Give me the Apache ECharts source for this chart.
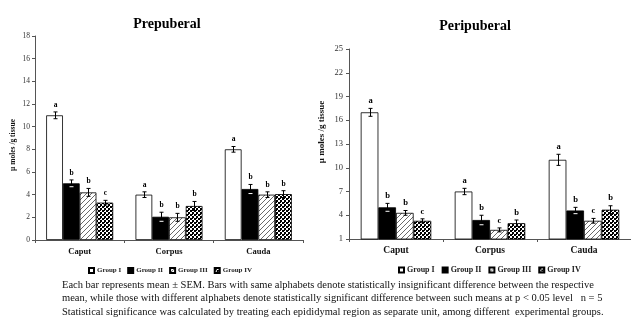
<!DOCTYPE html>
<html><head><meta charset="utf-8">
<script src="https://cdn.jsdelivr.net/npm/echarts@6/dist/echarts.min.js"></script>
<style>html,body{margin:0;padding:0;background:#fff}#c{width:631px;height:328px}</style>
</head><body><div id="c"></div>
<script>
const categories = ['Caput', 'Corpus', 'Cauda'];
const groups = ['Group I', 'Group II', 'Group III', 'Group IV'];
const yName = 'µ moles /g tissue';

// Prepuberal: rows = groups, columns = categories
const preMeans = [[11.0, 4.0, 8.0], [5.0, 2.05, 4.5], [4.2, 2.0, 4.0], [3.3, 3.0, 4.05]];
const preErrs  = [[0.3, 0.25, 0.25], [0.3, 0.4, 0.4], [0.35, 0.35, 0.25], [0.2, 0.4, 0.3]];
const preLetters = [['a', 'a', 'a'], ['b', 'b', 'b'], ['b', 'b', 'b'], ['c', 'b', 'b']];

// Peripuberal
const periMeans = [[17.0, 7.0, 11.0], [5.0, 3.4, 4.6], [4.3, 2.15, 3.3], [3.3, 3.0, 4.7]];
const periErrs  = [[0.5, 0.4, 0.7], [0.5, 0.6, 0.4], [0.3, 0.25, 0.3], [0.25, 0.4, 0.5]];
const periLetters = [['a', 'a', 'a'], ['b', 'b', 'b'], ['b', 'c', 'c'], ['c', 'b', 'b']];

const preTicks = {min: 0, max: 18, interval: 2};
const periTicks = {min: 1, max: 25, interval: 3};

const footnote = [
  'Each bar represents mean ± SEM. Bars with same alphabets denote statistically insignificant difference between the respective',
  'mean, while those with different alphabets denote statistically significant difference between such means at p < 0.05 level   n = 5',
  'Statistical significance was calculated by treating each epididymal region as separate unit, among different  experimental groups.'
];

const SERIF = '"Liberation Serif", "Times New Roman", serif';
const GAP = 0.25;

function hatchPattern() {
  const c = document.createElement('canvas'); c.width = 5; c.height = 5;
  const x = c.getContext('2d');
  x.fillStyle = '#fff'; x.fillRect(0, 0, 5, 5);
  x.strokeStyle = '#6a6a6a'; x.lineWidth = 1;
  x.beginPath();
  x.moveTo(0, 5); x.lineTo(5, 0);
  x.moveTo(-1, 1); x.lineTo(1, -1);
  x.moveTo(4, 6); x.lineTo(6, 4);
  x.stroke();
  return c;
}
function checkPattern() {
  const c = document.createElement('canvas'); c.width = 4; c.height = 4;
  const x = c.getContext('2d');
  x.fillStyle = '#fff'; x.fillRect(0, 0, 4, 4);
  x.fillStyle = '#000'; x.fillRect(0, 0, 2, 2); x.fillRect(2, 2, 2, 2);
  x.fillRect(0, 2, 1, 1);
  return c;
}
const fills = ['#ffffff', '#000000', {image: hatchPattern(), repeat: 'repeat'}, {image: checkPattern(), repeat: 'repeat'}];

function barSeries(means, axisIdx) {
  return groups.map((g, i) => ({
    name: g, type: 'bar', xAxisIndex: axisIdx, yAxisIndex: axisIdx,
    barGap: 0, barCategoryGap: (GAP * 100) + '%',
    itemStyle: {color: fills[i], borderColor: '#000', borderWidth: 0.8},
    data: means[i], z: 2, silent: true
  }));
}

function errSeries(means, errs, letters, axisIdx, fontSize) {
  const data = [];
  for (let c = 0; c < categories.length; c++)
    for (let g = 0; g < groups.length; g++)
      data.push([c, means[g][c], errs[g][c], g]);
  return {
    type: 'custom', xAxisIndex: axisIdx, yAxisIndex: axisIdx, z: 5, silent: true,
    encode: {x: 0, y: 1},
    data: data,
    renderItem: function (params, api) {
      const c = api.value(0), m = api.value(1), e = api.value(2), g = api.value(3);
      const band = api.size([1, 0])[0];
      const bw = band * (1 - GAP) / 4;
      const p = api.coord([c, m]);
      const x = Math.round(p[0] - band * (1 - GAP) / 2 + (g + 0.5) * bw) + 0.5;
      const yt = api.coord([c, m + e])[1];
      const yb = api.coord([c, m - e])[1];
      const cap = 2;
      const st = {stroke: '#000', lineWidth: 1};
      return {
        type: 'group', children: [
          {type: 'line', shape: {x1: x, y1: yt, x2: x, y2: yb}, style: st},
          {type: 'line', shape: {x1: x - cap, y1: yt, x2: x + cap, y2: yt}, style: st},
          {type: 'line', shape: {x1: x - cap, y1: yb, x2: x + cap, y2: yb}, style: g === 1 ? {stroke: '#fff', lineWidth: 1} : st},
          {type: 'text', style: {text: letters[g][c], x: x, y: yt - 3, align: 'center', verticalAlign: 'bottom',
            font: 'bold ' + fontSize + 'px ' + SERIF, fill: '#000'}}
        ]
      };
    }
  };
}

const axisLine = {show: true, lineStyle: {color: '#555', width: 1}};

const chart = echarts.init(document.getElementById('c'), null, {renderer: 'canvas'});
chart.setOption({
  animation: false,
  backgroundColor: '#fff',
  title: [
    {text: 'Prepuberal', left: 162, top: 12, textAlign: 'center',
      textStyle: {fontFamily: SERIF, fontWeight: 'bold', fontSize: 14, color: '#000'}},
    {text: 'Peripuberal', left: 470, top: 14, textAlign: 'center',
      textStyle: {fontFamily: SERIF, fontWeight: 'bold', fontSize: 14, color: '#000'}}
  ],
  legend: [
    {data: groups, left: 83, top: 262, itemWidth: 5, itemHeight: 5, itemGap: 6, icon: 'rect',
      textStyle: {fontFamily: SERIF, fontWeight: 'bold', fontSize: 7, color: '#222', padding: [0, 0, 0, -2]}, selectedMode: false},
    {data: groups, left: 393, top: 261, itemWidth: 5, itemHeight: 5, itemGap: 7, icon: 'rect',
      textStyle: {fontFamily: SERIF, fontWeight: 'bold', fontSize: 8, color: '#222', padding: [0, 0, 0, -2]}, selectedMode: false}
  ],
  grid: [
    {left: 35, right: 631 - 303, top: 36, bottom: 328 - 240},
    {left: 349, right: 0, top: 49, bottom: 328 - 239}
  ],
  xAxis: [0, 1].map(i => ({
    type: 'category', gridIndex: i, data: categories,
    axisLine: axisLine,
    axisTick: {show: true, length: 3, lineStyle: {color: '#555'}},
    axisLabel: {fontFamily: SERIF, fontWeight: 'bold', fontSize: i === 0 ? 8.5 : 9.5, color: '#111', margin: 7}
  })),
  yAxis: [
    {type: 'value', gridIndex: 0, min: preTicks.min, max: preTicks.max, interval: preTicks.interval,
      axisLine: axisLine, axisTick: {show: true, length: 3, lineStyle: {color: '#555'}}, splitLine: {show: false},
      axisLabel: {fontFamily: SERIF, fontSize: 7.5, color: '#333', margin: 5}},
    {type: 'value', gridIndex: 1, min: periTicks.min, max: periTicks.max, interval: periTicks.interval,
      axisLine: axisLine, axisTick: {show: true, length: 3, lineStyle: {color: '#555'}}, splitLine: {show: false},
      axisLabel: {fontFamily: SERIF, fontSize: 8.5, color: '#333', margin: 6}}
  ],
  graphic: [
    {type: 'text', x: 13, y: 145, rotation: Math.PI / 2,
      style: {text: yName, align: 'center', verticalAlign: 'middle', font: 'bold 7.5px ' + SERIF, fill: '#111'}},
    {type: 'text', x: 322, y: 132, rotation: Math.PI / 2,
      style: {text: yName, align: 'center', verticalAlign: 'middle', font: 'bold 9px ' + SERIF, fill: '#111'}},
    {type: 'text', x: 62, y: 278,
      style: {text: footnote.join('\n'), font: '10.5px ' + SERIF, lineHeight: 13.5, fill: '#111', verticalAlign: 'top'}}
  ],
  series: [].concat(
    barSeries(preMeans, 0),
    barSeries(periMeans, 1),
    [errSeries(preMeans, preErrs, preLetters, 0, 7.5), errSeries(periMeans, periErrs, periLetters, 1, 8.5)]
  )
});
</script></body></html>
